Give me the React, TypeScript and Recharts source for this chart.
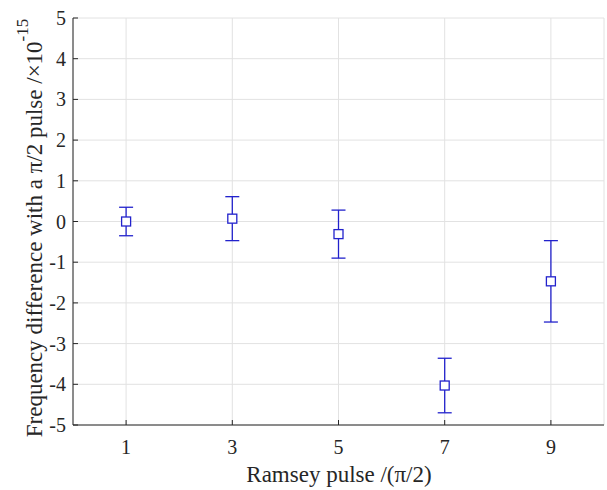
import { ScatterChart, Scatter, XAxis, YAxis, CartesianGrid, ErrorBar } from 'recharts'

const pulses = [1, 3, 5, 7, 9]
const freqDiff = [0.0, 0.07, -0.31, -4.03, -1.47]
const freqErr = [0.35, 0.54, 0.59, 0.67, 1.0]
const xTicks = [1, 3, 5, 7, 9]
const yTicks = [-5, -4, -3, -2, -1, 0, 1, 2, 3, 4, 5]

const data = pulses.map((p, i) => ({ x: p, y: freqDiff[i], err: freqErr[i] }))

const BLUE = '#2222cc'
const AXIS = '#262626'
const FONT = '"Liberation Serif", "Times New Roman", serif'

function SquareMarker(props: any) {
  const { cx, cy } = props
  return <rect x={cx - 4.5} y={cy - 4.5} width={9} height={9} fill="#fff" stroke={BLUE} strokeWidth={1.3} />
}

function XTick(props: any) {
  const { x, y, payload } = props
  return (
    <text x={x} y={y + 13} textAnchor="middle" fontFamily={FONT} fontSize={20} fill={AXIS}>
      {payload.value}
    </text>
  )
}

function YTick(props: any) {
  const { x, y, payload } = props
  return (
    <text x={x} y={y + 7} textAnchor="end" fontFamily={FONT} fontSize={20} fill={AXIS}>
      {payload.value}
    </text>
  )
}

function XLabel() {
  return (
    <text x={339} y={482} textAnchor="middle" fontFamily={FONT} fontSize={23} fill={AXIS}>
      Ramsey pulse /(π/2)
    </text>
  )
}

function YLabel() {
  return (
    <text
      x={42}
      y={228}
      transform="rotate(-90 42 228)"
      textAnchor="middle"
      fontFamily={FONT}
      fontSize={23}
      fill={AXIS}
    >
      Frequency difference with a π/2 pulse /×10
      <tspan dy={-14} fontSize={17}>-15</tspan>
    </text>
  )
}

export default function App() {
  return (
    <div style={{ position: 'absolute', left: 0, top: 0, width: 607, height: 490, background: '#fff', fontFamily: FONT }}>
      <ScatterChart width={607} height={490} margin={{ top: 18, right: 3, bottom: 0, left: 0 }}>
        <CartesianGrid stroke="#e2e2e2" strokeWidth={1} />
        <XAxis
          type="number"
          dataKey="x"
          domain={[0, 10]}
          ticks={xTicks}
          height={65}
          tickSize={-5}
          tickMargin={21}
          tick={<XTick />}
          stroke={AXIS}
          label={<XLabel />}
        />
        <XAxis
          xAxisId="top"
          type="number"
          orientation="top"
          domain={[0, 10]}
          ticks={xTicks}
          height={0}
          tickSize={-5}
          tick={false}
          stroke={AXIS}
        />
        <YAxis
          type="number"
          dataKey="y"
          domain={[-5, 5]}
          ticks={yTicks}
          width={73}
          tickSize={-5}
          tickMargin={12}
          tick={<YTick />}
          stroke={AXIS}
          label={<YLabel />}
        />
        <YAxis
          yAxisId="right"
          type="number"
          orientation="right"
          domain={[-5, 5]}
          ticks={yTicks}
          width={0}
          tickSize={-5}
          tick={false}
          stroke={AXIS}
        />
        <Scatter data={data} shape={<SquareMarker />} isAnimationActive={false}>
          <ErrorBar dataKey="err" direction="y" width={7} stroke={BLUE} strokeWidth={1.3} isAnimationActive={false} />
        </Scatter>
      </ScatterChart>
    </div>
  )
}
